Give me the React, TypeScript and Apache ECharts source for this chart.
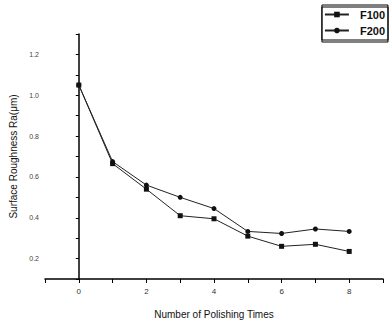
import React, { useEffect, useRef } from "react";
import * as echarts from "echarts";

const polishingTimes = [0, 1, 2, 3, 4, 5, 6, 7, 8];
const f100 = [1.05, 0.665, 0.54, 0.41, 0.395, 0.31, 0.26, 0.27, 0.235];
const f200 = [1.05, 0.675, 0.56, 0.50, 0.445, 0.333, 0.323, 0.345, 0.333];
const seriesNames = ["F100", "F200"];

export default function App() {
  const ref = useRef<HTMLDivElement>(null);
  useEffect(() => {
    if (!ref.current) return;
    const chart = echarts.init(ref.current, null, { renderer: "svg" });
    const font = "Liberation Sans, Arial, sans-serif";
    chart.setOption({
      animation: false,
      backgroundColor: "#fff",
      textStyle: { fontFamily: font },
      grid: { left: 45, right: 7, top: 34, bottom: 42 },
      legend: {
        orient: "vertical",
        right: 2,
        top: 5,
        data: seriesNames,
        borderColor: "#000",
        borderWidth: 1,
        padding: [4, 3, 4, 2],
        itemGap: 5,
        itemWidth: 24,
        itemHeight: 7,
        textStyle: { fontSize: 11, fontWeight: "bold", color: "#111", fontFamily: font, padding: [0, 0, 0, 6] },
        shadowColor: "#000",
        shadowOffsetY: 2,
      },
      xAxis: {
        type: "value",
        min: -1,
        max: 9,
        interval: 1,
        name: "Number of Polishing Times",
        nameLocation: "middle",
        nameGap: 30,
        nameTextStyle: { fontSize: 10, color: "#111", fontFamily: font },
        axisLine: { lineStyle: { color: "#000", width: 1.5 } },
        axisTick: { show: true, length: 4, lineStyle: { color: "#000" } },
        axisLabel: {
          fontSize: 8,
          color: "#333",
          margin: 8,
          formatter: (v: number) => (Math.round(v) % 2 === 0 && v >= 0 && v <= 8 ? String(Math.round(v)) : ""),
        },
        splitLine: { show: false },
      },
      yAxis: {
        type: "value",
        min: 0.1,
        max: 1.3,
        interval: 0.1,
        name: "Surface Roughness Ra(\u03bcm)",
        nameLocation: "middle",
        nameGap: 27,
        nameRotate: 90,
        nameTextStyle: { fontSize: 10, color: "#111", fontFamily: font },
        axisLine: { show: true, lineStyle: { color: "#000", width: 1.5 } },
        axisTick: { show: true, length: 3, lineStyle: { color: "#000" } },
        axisLabel: {
          fontSize: 7,
          color: "#444",
          margin: 6,
          formatter: (v: number) => {
            const k = Math.round(v * 10);
            return k % 2 === 0 && k >= 2 && k <= 12 ? (k / 10).toFixed(1) : "";
          },
        },
        splitLine: { show: false },
      },
      series: [
        {
          name: seriesNames[0],
          type: "line",
          data: polishingTimes.map((x, i) => [x, f100[i]]),
          symbol: "rect",
          symbolSize: 5,
          lineStyle: { color: "#222", width: 1 },
          itemStyle: { color: "#111" },
        },
        {
          name: seriesNames[1],
          type: "line",
          data: polishingTimes.map((x, i) => [x, f200[i]]),
          symbol: "circle",
          symbolSize: 5,
          lineStyle: { color: "#222", width: 1 },
          itemStyle: { color: "#111" },
        },
      ],
    });
    return () => chart.dispose();
  }, []);
  return <div ref={ref} style={{ width: 390, height: 324, position: "absolute", left: 0, top: 0 }} />;
}
